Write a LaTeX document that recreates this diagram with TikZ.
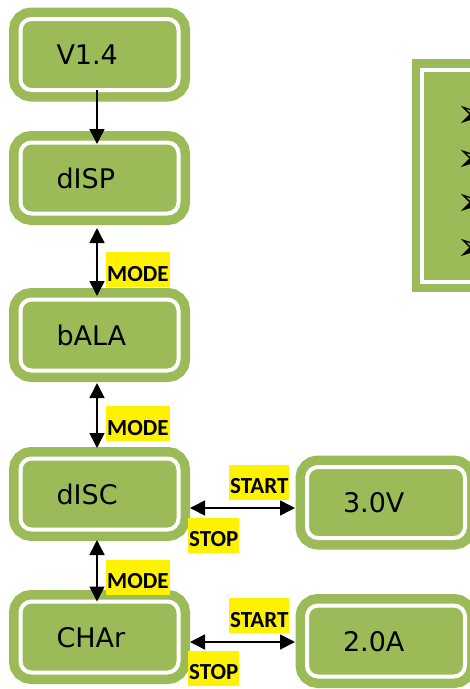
\documentclass[tikz,border=0pt]{standalone}
\usepackage{fontspec}
\setmainfont{DejaVu Sans}
\newfontfamily\lblfont{Carlito}
\usetikzlibrary{arrows.meta}
\definecolor{ogreen}{HTML}{9BBB59}
\tikzset{
  gbox/.style={fill=ogreen, draw=white, line width=4pt, rounded corners=11pt,
    preaction={draw=ogreen, line width=23pt},
    minimum width=158pt, minimum height=71pt, text width=86pt,
    inner xsep=36pt, inner ysep=0pt, outer sep=0pt, align=left,
    font=\fontsize{27}{30}\selectfont, text height=20pt, text depth=0pt},
  hl/.style={fill=yellow, inner xsep=1pt, inner ysep=0pt, anchor=west,
    text height=29pt, text depth=6pt,
    font=\lblfont\bfseries\fontsize{23}{26}\selectfont},
  arr/.style={line width=1.6pt, -{Triangle[width=15pt,length=15pt]}},
  dbl/.style={line width=1.6pt, {Triangle[width=15pt,length=15pt]}-{Triangle[width=15pt,length=15pt]}},
  bul/.style={anchor=west, inner sep=0pt, font=\fontsize{40}{44}\selectfont},
}
\begin{document}
\begin{tikzpicture}[x=1pt,y=-1pt]
\useasboundingbox (0,0) rectangle (470,689);
\clip (0,0) rectangle (470,689);
% note box at the top right
\node[fill=ogreen, draw=white, line width=4pt, preaction={draw=ogreen, line width=21pt},
  minimum width=300pt, minimum height=212pt, anchor=north west, inner sep=0pt, outer sep=0pt]
  (note) at (422,69.5) {};
\node[bul] (b1) at (456,116.5) {➢};
\node[bul] (b2) at (456,160.5) {➢};
\node[bul] (b3) at (456,205) {➢};
\node[bul] (b4) at (456,250) {➢};
% state boxes
\node[gbox] (v14) at (99.5,54.5) {V1.4};
\node[gbox] (disp) at (99.5,178) {dISP};
\node[gbox] (bala) at (99.5,335) {bALA};
\node[gbox] (disc) at (99.5,494) {dISC};
\node[gbox] (char) at (99.5,637) {CHAr};
\node[gbox] (v30) at (386,502.5) {3.0V};
\node[gbox] (a20) at (386,641) {2.0A};
% connectors
\draw[arr, shorten >=-1.5pt] ([xshift=-2.5pt]v14.south) -- ([xshift=-2.5pt]disp.north);
\draw[dbl, shorten <=14.5pt, shorten >=3.5pt] ([xshift=-2.5pt]disp.south) -- ([xshift=-2.5pt]bala.north);
\draw[dbl, shorten <=12.5pt, shorten >=10.5pt] ([xshift=-2.5pt]bala.south) -- ([xshift=-2.5pt]disc.north);
\draw[dbl, shorten <=10.5pt] ([xshift=-2.5pt]disc.south) -- ([xshift=-2.5pt]char.north);
\draw[dbl, shorten <=11.5pt, shorten >=12pt] ([shift={(0,14)}]disc.east) -- ([shift={(0,5.5)}]v30.west);
\draw[dbl, shorten <=11.5pt, shorten >=12pt] ([shift={(0,5)}]char.east) -- ([shift={(0,1)}]a20.west);
% labels
\node[hl] (m1) at (106,269.8) {MODE};
\node[hl] (m2) at (106,423.5) {MODE};
\node[hl] (m3) at (106,577) {MODE};
\node[hl] (s1) at (229,482) {START};
\node[hl] (p1) at (188,535) {STOP};
\node[hl] (s2) at (229,615.7) {START};
\node[hl] (p2) at (188,668) {STOP};
\end{tikzpicture}
\end{document}
